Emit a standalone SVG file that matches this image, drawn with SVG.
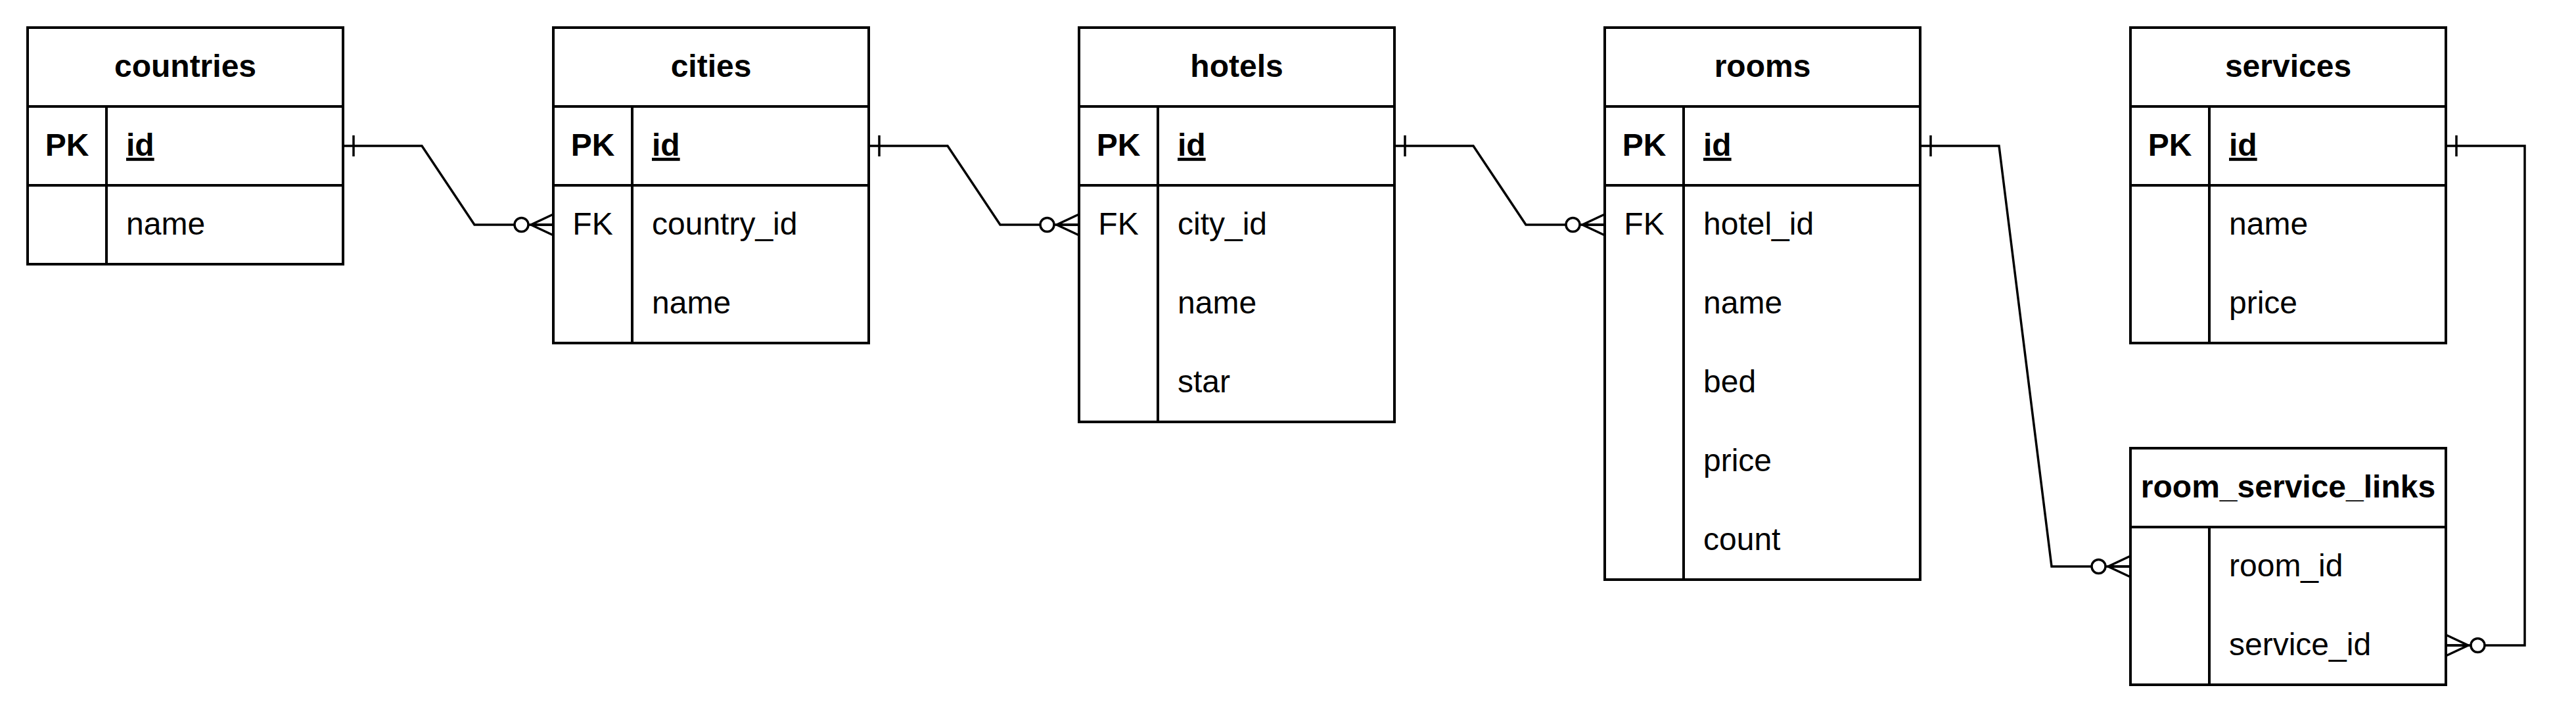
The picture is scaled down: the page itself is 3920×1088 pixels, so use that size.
<svg xmlns="http://www.w3.org/2000/svg" width="3920" height="1088" viewBox="0 0 3920 1088">
<style>
.box{fill:#fff;stroke:#000;stroke-width:4}
.ln{fill:none;stroke:#000;stroke-width:4}
.t{font-family:"Liberation Sans",Arial,sans-serif;font-size:48px;fill:#000}
.h{font-weight:bold;text-anchor:middle}
.k{text-anchor:middle}
.kb{text-anchor:middle;font-weight:bold}
.pk{font-weight:bold;text-decoration:underline}
.edge{fill:none;stroke:#000;stroke-width:3.5}
</style>
<defs>
<marker id="one" markerUnits="userSpaceOnUse" viewBox="-40 -25 50 50" refX="0" refY="0" markerWidth="50" markerHeight="50" orient="auto-start-reverse" overflow="visible">
<path d="M-16,-16 L-16,16" fill="none" stroke="#000" stroke-width="3.5"/>
</marker>
<marker id="zeroMany" markerUnits="userSpaceOnUse" viewBox="-70 -25 80 50" refX="0" refY="0" markerWidth="80" markerHeight="50" orient="auto-start-reverse" overflow="visible">
<path d="M0,-16 L-34,0 L0,16 M-34,0 L0,0" fill="none" stroke="#000" stroke-width="3.5"/>
<circle cx="-48.5" cy="0" r="10.5" fill="#fff" stroke="#000" stroke-width="3.5"/>
</marker>
</defs>
<rect x="0" y="0" width="3920" height="1088" fill="#fff"/>

<g id="connectors">
<path class="edge" d="M522,222 L642,222 L722,342 L842,342" marker-start="url(#one)" marker-end="url(#zeroMany)"/>
<path class="edge" d="M1322,222 L1442,222 L1522,342 L1642,342" marker-start="url(#one)" marker-end="url(#zeroMany)"/>
<path class="edge" d="M2122,222 L2242,222 L2322,342 L2442,342" marker-start="url(#one)" marker-end="url(#zeroMany)"/>
<path class="edge" d="M2922,222 L3042,222 L3122,862 L3242,862" marker-start="url(#one)" marker-end="url(#zeroMany)"/>
<path class="edge" d="M3722,222 L3842,222 L3842,982 L3722,982" marker-start="url(#one)" marker-end="url(#zeroMany)"/>
</g>

<g id="countries">
<rect class="box" x="42" y="42" width="480" height="360"/>
<path class="ln" d="M42,162 H522 M42,282 H522 M162,162 V402"/>
<text class="t h" x="282" y="117">countries</text>
<text class="t kb" x="102" y="237">PK</text>
<text class="t pk" x="192" y="237">id</text>
<text class="t" x="192" y="357">name</text>
</g>

<g id="cities">
<rect class="box" x="842" y="42" width="480" height="480"/>
<path class="ln" d="M842,162 H1322 M842,282 H1322 M962,162 V522"/>
<text class="t h" x="1082" y="117">cities</text>
<text class="t kb" x="902" y="237">PK</text>
<text class="t pk" x="992" y="237">id</text>
<text class="t k" x="902" y="357">FK</text>
<text class="t" x="992" y="357">country_id</text>
<text class="t" x="992" y="477">name</text>
</g>

<g id="hotels">
<rect class="box" x="1642" y="42" width="480" height="600"/>
<path class="ln" d="M1642,162 H2122 M1642,282 H2122 M1762,162 V642"/>
<text class="t h" x="1882" y="117">hotels</text>
<text class="t kb" x="1702" y="237">PK</text>
<text class="t pk" x="1792" y="237">id</text>
<text class="t k" x="1702" y="357">FK</text>
<text class="t" x="1792" y="357">city_id</text>
<text class="t" x="1792" y="477">name</text>
<text class="t" x="1792" y="597">star</text>
</g>

<g id="rooms">
<rect class="box" x="2442" y="42" width="480" height="840"/>
<path class="ln" d="M2442,162 H2922 M2442,282 H2922 M2562,162 V882"/>
<text class="t h" x="2682" y="117">rooms</text>
<text class="t kb" x="2502" y="237">PK</text>
<text class="t pk" x="2592" y="237">id</text>
<text class="t k" x="2502" y="357">FK</text>
<text class="t" x="2592" y="357">hotel_id</text>
<text class="t" x="2592" y="477">name</text>
<text class="t" x="2592" y="597">bed</text>
<text class="t" x="2592" y="717">price</text>
<text class="t" x="2592" y="837">count</text>
</g>

<g id="services">
<rect class="box" x="3242" y="42" width="480" height="480"/>
<path class="ln" d="M3242,162 H3722 M3242,282 H3722 M3362,162 V522"/>
<text class="t h" x="3482" y="117">services</text>
<text class="t kb" x="3302" y="237">PK</text>
<text class="t pk" x="3392" y="237">id</text>
<text class="t" x="3392" y="357">name</text>
<text class="t" x="3392" y="477">price</text>
</g>

<g id="room_service_links">
<rect class="box" x="3242" y="682" width="480" height="360"/>
<path class="ln" d="M3242,802 H3722 M3362,802 V1042"/>
<text class="t h" x="3482" y="757">room_service_links</text>
<text class="t" x="3392" y="877">room_id</text>
<text class="t" x="3392" y="997">service_id</text>
</g>
</svg>
